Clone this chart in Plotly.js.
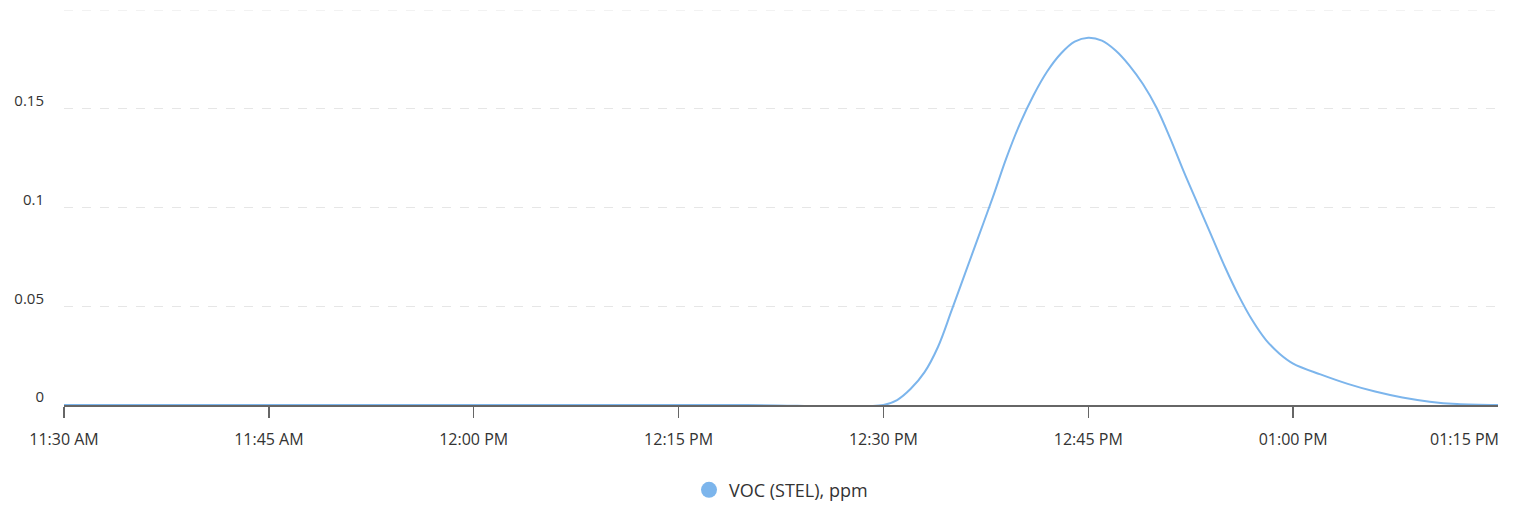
<!DOCTYPE html>
<html>
<head>
<meta charset="utf-8">
<script src="https://cdn.plot.ly/plotly-3.0.1.min.js"></script>
<style>html,body{margin:0;padding:0;background:#fff;}#chart{width:1519px;height:509px;}</style>
</head>
<body>
<div id="chart"></div>
<script>
const seriesName = "VOC (STEL), ppm";
const times = [
  "2024-01-01 11:30","2024-01-01 11:40","2024-01-01 11:50","2024-01-01 12:00","2024-01-01 12:10","2024-01-01 12:20",
  "2024-01-01 12:30","2024-01-01 12:31","2024-01-01 12:32","2024-01-01 12:33","2024-01-01 12:34","2024-01-01 12:35",
  "2024-01-01 12:36","2024-01-01 12:37","2024-01-01 12:38","2024-01-01 12:39","2024-01-01 12:40","2024-01-01 12:41",
  "2024-01-01 12:42","2024-01-01 12:43","2024-01-01 12:44","2024-01-01 12:45","2024-01-01 12:46","2024-01-01 12:47",
  "2024-01-01 12:48","2024-01-01 12:49","2024-01-01 12:50","2024-01-01 12:51","2024-01-01 12:52","2024-01-01 12:53",
  "2024-01-01 12:54","2024-01-01 12:55","2024-01-01 12:56","2024-01-01 12:57","2024-01-01 12:58","2024-01-01 12:59",
  "2024-01-01 13:00","2024-01-01 13:02","2024-01-01 13:04","2024-01-01 13:06","2024-01-01 13:08","2024-01-01 13:10",
  "2024-01-01 13:12","2024-01-01 13:15"
];
const values = [
  0,0,0,0,0,0,
  0,0.0025,0.0082,0.0165,0.0295,0.048,
  0.067,0.086,0.105,0.125,0.1425,0.157,
  0.169,0.178,0.184,0.186,0.1845,0.1795,
  0.172,0.1625,0.1505,0.135,0.118,0.102,
  0.086,0.070,0.0555,0.043,0.033,0.026,
  0.021,0.0155,0.0107,0.0068,0.0038,0.0017,
  0.0005,0
];
const tickTimes = ["2024-01-01 11:30","2024-01-01 11:45","2024-01-01 12:00","2024-01-01 12:15","2024-01-01 12:30","2024-01-01 12:45","2024-01-01 13:00","2024-01-01 13:15"];
const tickLabels = ["11:30 AM","11:45 AM","12:00 PM","12:15 PM","12:30 PM","12:45 PM","01:00 PM","01:15 PM"];
const yTicks = [0,0.05,0.1,0.15];
const yTickLabels = ["0","0.05","0.1","0.15"];
const yTop = 0.2;

const color = "#7cb5ec";
const axisColor = "#666";
const font = "Segoe UI, Open Sans, Noto Sans, sans-serif";

const traces = [
  {x: times, y: values, type: "scatter", mode: "lines", line: {color: color, width: 2, shape: "spline", smoothing: 1.0}, showlegend: false, hoverinfo: "x+y"},
  {x: [null], y: [null], type: "scatter", mode: "markers", name: seriesName, marker: {color: color, size: 16, symbol: "circle"}}
];

const layout = {
  width: 1519, height: 509,
  margin: {l: 64, r: 21, t: 10, b: 104},
  paper_bgcolor: "#fff", plot_bgcolor: "#fff",
  font: {family: font, size: 15, color: "#333"},
  xaxis: {
    type: "date", automargin: false,
    range: ["2024-01-01 11:30", "2024-01-01 13:15"],
    tickmode: "array", tickvals: tickTimes.slice(0, 7), ticktext: tickLabels.slice(0, 7),
    showgrid: false, zeroline: false,
    showline: true, linecolor: axisColor, linewidth: 1.5,
    ticks: "outside", ticklen: 11, tickcolor: axisColor, tickwidth: 1.5,
    ticklabelstandoff: 8,
    tickfont: {family: font, size: 16, color: "#333"}
  },
  yaxis: {
    range: [0, yTop], automargin: false,
    tickmode: "array", tickvals: yTicks, ticktext: yTickLabels,
    showgrid: true, gridcolor: "#e6e6e6", griddash: "dash", gridwidth: 1,
    zeroline: false, showline: false, ticks: "",
    ticklabelstandoff: 19, ticklabelshift: -8,
    tickfont: {family: font, size: 15, color: "#333"}
  },
  legend: {orientation: "h", x: 0.5, xanchor: "center", yref: "container", y: 0.037, yanchor: "middle",
           font: {family: font, size: 18, color: "#333"}},
  annotations: [
    {x: tickTimes[7], y: 0, xref: "x", yref: "y", text: tickLabels[7], showarrow: false,
     xanchor: "right", yanchor: "top", yshift: -21, xshift: 3, font: {family: font, size: 16, color: "#333"}}
  ],
  shapes: [
    {type: "line", xref: "x", yref: "y", ysizemode: "pixel", yanchor: 0, x0: tickTimes[7], x1: tickTimes[7], y0: 0, y1: -11,
     line: {color: axisColor, width: 1.5}, layer: "above"},
    {type: "line", xref: "paper", yref: "y", x0: 0, x1: 1, y0: yTop, y1: yTop, line: {color: "#e6e6e6", width: 1, dash: "dash"}, layer: "below"}
  ]
};

Plotly.newPlot("chart", traces, layout, {displayModeBar: false, staticPlot: true});
</script>
</body>
</html>
